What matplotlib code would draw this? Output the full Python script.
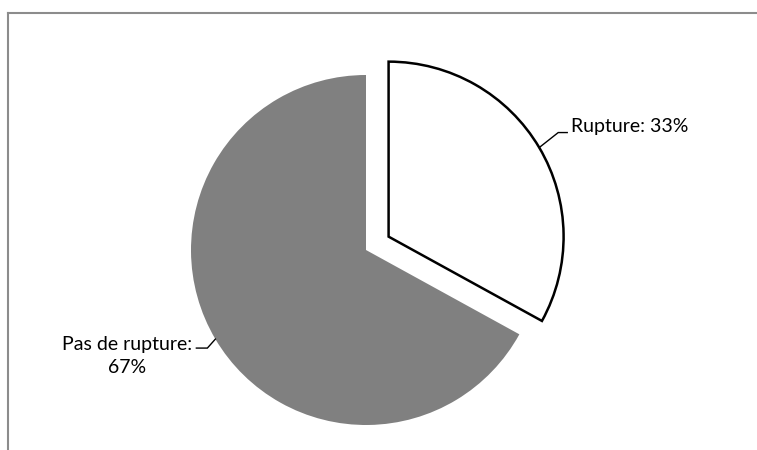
import numpy as np
import matplotlib
matplotlib.use("Agg")
import matplotlib.pyplot as plt
from matplotlib.lines import Line2D

# share of cases with / without rupture (%)
labels = ["Rupture", "Pas de rupture"]
values = [33, 67]
label_text = ["{}: {}%".format(labels[0], values[0]),
              "{}:\n{}%".format(labels[1], values[1])]

colors = ["white", "#808080"]
explode = [0.15, 0.0]

W, H = 757, 450
R_PX = 175.0           # pie radius in pixels
CX, CY = 366.0, 250.0  # pie centre in pixels (from top-left)

plt.rcParams["font.family"] = ["Lato", "DejaVu Sans"]

fig = plt.figure(figsize=(W / 100, H / 100), dpi=100)
ax = fig.add_axes([0, 0, 1, 1])

wedges, _ = ax.pie(values, colors=colors, explode=explode, startangle=90,
                   counterclock=False, radius=1.0)
wedges[0].set_edgecolor("black")
wedges[0].set_linewidth(1.8)
wedges[0].set_joinstyle("miter")
wedges[1].set_edgecolor("none")

ax.set_xlim(-CX / R_PX, (W - CX) / R_PX)
ax.set_ylim(-(H - CY) / R_PX, CY / R_PX)
ax.set_aspect("equal")
ax.axis("off")

# leader line offsets in pixels: (knee dx, knee dy, stub dx), y upwards
leaders = [(19, 15, 9), (-8, -9, -11)]

def px(v):
    return v / R_PX

for i, w in enumerate(wedges):
    mid = np.deg2rad((w.theta1 + w.theta2) / 2)
    cx, cy = w.center
    ex, ey = cx + np.cos(mid), cy + np.sin(mid)
    kdx, kdy, sdx = leaders[i]
    kx, ky = ex + px(kdx), ey + px(kdy)
    sx = kx + px(sdx)
    ax.plot([ex, kx, sx], [ey, ky, ky], color="black", lw=1.0,
            solid_joinstyle="miter")
    if i == 0:
        ax.text(sx + px(4), ky + px(6), label_text[i], ha="left", va="center",
                fontsize=14, color="black")
    else:
        ax.text(sx - px(4), ky - px(8), label_text[i], ha="right", va="center",
                multialignment="center", fontsize=14, color="black",
                linespacing=1.45)

# chart area border (only the top and left edges fall inside the image)
border = dict(color="#8c8c8c", lw=1.5, transform=fig.transFigure)
fig.add_artist(Line2D([8 / W, 1.0], [1 - 13 / H, 1 - 13 / H], **border))
fig.add_artist(Line2D([8 / W, 8 / W], [1 - 13 / H, 0.0], **border))

fig.savefig("out.png", dpi=100)
